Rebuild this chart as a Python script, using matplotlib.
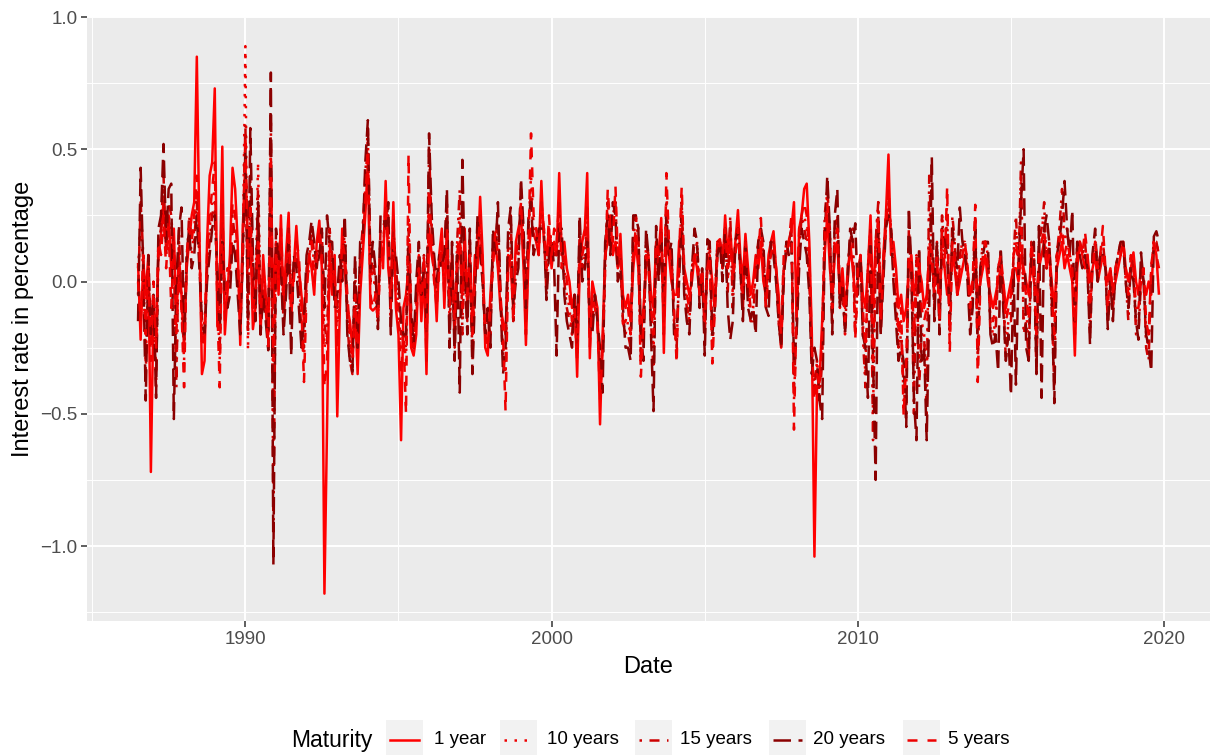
import numpy as np
import pandas as pd
import matplotlib
matplotlib.use("Agg")
import matplotlib.pyplot as plt
import matplotlib.dates as mdates
from matplotlib.ticker import FixedLocator
from matplotlib.patches import Rectangle
from matplotlib.lines import Line2D

plt.rcParams['font.family'] = ['Liberation Sans', 'DejaVu Sans']

# monthly changes of the zero rates, in hundredths of a percentage point
dates = pd.date_range("1986-07-01", periods=401, freq="MS")

one_year = [
    7, -22, 8, -5, 10, -72, -10, -20, 10, 18, 30, 12,
    25, 5, 20, -15, 10, -5, -25, 5, 15, 25, 30, 85,
    20, -35, -30, 15, 40, 45, 73, -17, 0, 51, -20, -5,
    10, 43, 35, 15, -24, 20, 45, 10, 20, -18, -10, 25,
    -20, 10, -5, -20, 40, -10, 15, -5, 25, -10, 10, 26,
    -15, 5, 21, 5, -5, -15, 0, 10, 5, -5, 15, 23,
    5, -118, -55, 10, -5, 10, -51, -10, 20, 5, -10, -15,
    -25, -10, -35, -5, 10, 25, 45, -10, -11, -10, -9, 15,
    5, 38, 5, -5, 30, -10, -20, -60, -10, -5, 5, -25,
    -28, -20, 10, -15, 5, -35, 20, 10, 5, -15, 10, 20,
    -10, 15, -5, 10, -20, 5, 15, -5, 20, -10, 5, -15,
    10, 5, 32, 10, -25, -28, -5, 10, 15, 5, -10, -15,
    -20, 10, 5, -10, 15, 20, 25, 5, -24, 10, 20, 18,
    15, 10, 38, 15, 10, 20, 5, 15, 10, 41, 10, 15,
    5, 0, -10, -5, -36, 5, 15, 20, 41, -29, 0, -5,
    -10, -54, -20, 10, 15, 25, 10, 15, 5, 18, -5, -10,
    -5, -15, 5, 15, 5, -20, -10, 5, 10, -5, -10, 15,
    10, 24, -27, 15, 10, 0, -5, -5, 15, 20, 5, 0,
    -5, 0, 10, 5, -5, 0, -15, 5, 10, 0, -10, 15,
    16, 5, 25, 10, 20, 5, 15, 27, 10, 0, 18, 5,
    -5, 0, 10, 5, 15, 0, -5, 10, 15, 19, 5, -5,
    -25, 5, 10, 15, 20, 30, -15, 20, 25, 35, 37, 15,
    -20, -104, -40, -38, -15, 10, 25, 5, -5, 10, 15, -5,
    5, -10, 0, 15, 5, -5, 0, 10, -5, -10, 5, 25,
    -10, 15, 20, -19, 10, 25, 48, 10, 15, 5, -10, -5,
    -15, -10, 5, 10, -5, 0, 5, 0, -10, -5, 10, 5,
    0, 5, -5, 10, 5, -5, 0, 10, 5, -5, 0, 5,
    10, 5, -5, 0, 5, -5, 0, 5, 10, 0, -5, -10,
    -5, 0, 5, 0, -10, -5, 0, 5, 5, 0, 10, 5,
    0, -5, 10, 0, -5, 5, 10, 15, 5, 11, 0, -10,
    5, 10, 15, 5, 10, 5, 0, -28, 5, 15, 10, 5,
    10, 0, 5, 10, 0, 5, 10, 5, 0, 5, -5, 0,
    5, 10, 15, 5, 0, 5, 11, 0, -5, 5, 0, -5,
    0, -5, 15, 10, -5,
]

five_years = [
    0, -15, 10, -20, 5, -30, 0, -25, 15, 10, 25, 5,
    20, -10, 15, -20, 5, -10, -40, 10, 20, 15, 25, 40,
    15, -25, -20, 10, 25, 35, 45, -10, -40, 30, -15, 5,
    5, 30, 25, 10, -15, 15, 55, 5, 30, -10, -5, 15,
    -15, 5, -10, -25, 45, -30, 10, 5, 20, -5, 5, 20,
    -10, 0, 15, 10, -10, -38, -5, 10, 15, 0, 10, 20,
    10, -40, -30, 15, 0, 5, -25, -5, 15, 10, -5, -20,
    -30, -5, -25, 0, 15, 30, 50, -5, -10, -5, -15, 10,
    10, 30, 15, -10, 25, -5, -15, -35, -20, -50, 48, -20,
    -25, -15, 5, -10, 10, -30, 35, 15, 0, -10, 5, 15,
    -5, 20, -10, 5, -15, 10, 20, -10, 15, -5, 10, -20,
    5, 10, 25, 5, -20, -25, -10, 5, 19, 10, -5, -20,
    -49, 5, 10, -15, 10, 15, 30, 10, -20, 15, 56, 25,
    20, 10, 30, 20, 5, 25, 10, 20, 15, 30, 5, 10,
    0, -5, -15, -10, -30, 10, 10, 15, 30, -25, -5, -10,
    -15, -45, -25, 5, 35, 20, 15, 36, 10, 15, -16, -15,
    -10, -20, 10, 20, 10, -36, -15, 10, 5, -10, -20, 15,
    10, 20, -20, 41, 15, 5, -10, -31, 10, 36, 5, -5,
    -10, 5, 10, 10, -5, 5, -15, 5, 10, -31, -10, 10,
    15, 10, 20, 5, 15, 0, 10, 20, 5, -5, 15, 0,
    -10, -5, 5, 10, 24, 5, -10, 5, 10, 15, 5, -10,
    -20, 10, 10, 15, 25, -56, -10, 20, 25, 30, 25, 10,
    -25, -45, -35, -40, -20, 15, 30, 10, -10, 15, 20, -5,
    0, -15, 5, 10, 10, -22, 5, 10, -10, -25, 0, 20,
    -30, 10, 25, -15, 5, 20, 35, 15, 10, 0, -20, -10,
    -51, -30, 10, 5, -20, 5, 10, -10, -15, -10, 15, 10,
    -5, 10, -15, 20, 5, 36, -27, 15, 10, -5, 5, 10,
    15, 5, -10, 0, 29, -38, 0, 10, 15, 5, -10, -15,
    -10, 5, 10, 0, -15, -10, -5, 10, 15, 5, 20, 0,
    -5, -15, 15, 5, -20, 10, 15, 20, 5, 10, -5, -20,
    10, 15, 20, 10, 15, 10, 5, -20, 10, 15, 10, 19,
    10, -10, 5, 15, 5, 10, 21, 5, -10, 5, -5, 5,
    10, 10, 15, 5, -5, 10, 5, -10, -10, 0, 5, -15,
    -20, 5, 15, 10, 5,
]

ten_years = [
    5, 20, 5, -30, 0, -15, -5, -35, 10, 15, 35, 10,
    25, 20, 10, -35, 15, -5, -30, 10, 20, 10, 20, 35,
    10, -20, -15, 5, 20, 30, 35, -5, -30, 25, -10, 0,
    5, 20, 20, 5, -10, 10, 89, -26, 30, 0, -5, 45,
    -10, 5, -5, -25, 50, -60, 10, 0, 15, -10, 5, 20,
    -5, 5, 10, 5, -15, -30, 0, 5, 20, 5, 10, 15,
    15, -25, -20, 20, 5, 0, -15, 0, 10, 15, -10, -25,
    -35, 0, -20, 5, 20, 35, 55, 0, 5, -5, -15, 15,
    15, 25, 20, -10, 20, 0, -10, -25, -20, -30, 25, -15,
    -25, -10, 5, -5, 10, -20, 40, 20, 0, -5, 5, 10,
    0, 25, -15, 5, -20, 15, 25, -15, 10, -10, 15, -25,
    5, 15, 20, 0, -20, -20, -15, 10, 15, 20, -5, -25,
    -35, 10, 20, -15, 5, 10, 30, 15, -15, 20, 40, 20,
    15, 15, 25, 20, 0, 20, 15, 15, 10, 25, 10, 5,
    -5, -10, -20, -10, -25, 15, 5, 10, 25, -20, -10, -5,
    -15, -35, -25, 5, 30, 20, 20, 30, 5, 10, -15, -20,
    -15, -20, 15, 25, 15, -30, -20, 15, 10, -10, -25, 10,
    5, 20, -15, 35, 10, 10, -15, -25, 5, 30, 0, -5,
    -15, 5, 10, 15, -5, 5, -20, 5, 15, -25, -5, 15,
    15, 5, 20, 0, 20, -5, 15, 20, 5, -10, 15, 0,
    -15, -10, 5, 15, 20, 10, -10, 5, 15, 15, 5, -15,
    -25, 5, 15, 15, 20, -45, -15, 15, 25, 25, 20, 5,
    -30, -40, -30, -40, -25, 20, 35, 15, -15, 20, 25, -10,
    0, -20, 5, 15, 15, -20, 0, 10, -15, -35, 5, 20,
    -50, 15, 30, -15, 5, 25, 30, 20, 5, -5, -25, -15,
    -45, -40, 15, 5, -35, 10, -30, -15, -20, -40, 30, 15,
    -10, 15, -15, 25, 10, 30, -20, 20, 15, -5, 10, 15,
    15, 5, -15, -5, 25, -30, 5, 15, 15, 10, -15, -20,
    -15, 5, 10, -5, -25, -15, -10, 10, 20, 5, 40, -15,
    -10, -25, 15, 10, -30, 15, 20, 25, 5, 15, -10, -30,
    10, 20, 30, 15, 20, 10, 5, -15, 15, 15, 10, 15,
    5, -15, 10, 15, 5, 10, 15, 5, -15, 5, -10, 5,
    10, 15, 15, 0, -10, 10, 5, -15, -15, 0, 5, -20,
    -25, 5, 15, 15, 10,
]

fifteen_years = [
    -5, 30, 10, -35, 5, -20, -10, -40, 15, 20, 40, 10,
    30, 25, 10, -40, 20, -10, -25, 5, 25, 15, 15, 30,
    10, -15, -20, 5, 15, 25, 30, 0, -25, 20, -5, 0,
    0, 25, 15, 0, -15, 5, 60, -20, 40, 0, -10, 35,
    -15, 0, -10, -25, 60, -90, 15, 5, 10, -15, 0, 20,
    -5, 5, 10, 0, -20, -25, 5, 10, 20, 10, 5, 15,
    20, -15, -25, 20, 10, -5, -10, 5, 5, 20, -15, -30,
    -35, 5, -25, 10, 20, 40, 58, 0, 10, 0, -15, 20,
    20, 25, 25, -15, 20, 5, -5, -20, -20, -25, 20, -15,
    -25, -5, 10, -5, 10, -20, 50, 20, 5, -5, 5, 10,
    5, 30, -20, 10, -25, 15, 35, -20, 10, -15, 15, -30,
    0, 20, 15, 0, -20, -15, -20, 15, 15, 25, -5, -30,
    -30, 15, 25, -15, 5, 10, 35, 15, -15, 20, 35, 15,
    15, 15, 25, 20, -5, 15, 15, 10, 10, 25, 15, 0,
    -10, -15, -20, -10, -25, 20, 5, 10, 20, -20, -15, -5,
    -15, -35, -30, 10, 30, 15, 25, 30, 5, 10, -15, -20,
    -20, -25, 20, 25, 20, -30, -25, 15, 10, -15, -35, 15,
    5, 20, -10, 30, 10, 10, -15, -25, 5, 30, 0, -10,
    -15, 5, 15, 15, -5, 5, -20, 10, 15, -25, -10, 15,
    15, 5, 20, -5, 25, -10, 15, 20, 5, -10, 15, -5,
    -15, -15, 5, 15, 20, 10, -10, 5, 15, 15, 5, -15,
    -25, 5, 15, 15, 20, -40, -15, 10, 25, 20, 15, 0,
    -30, -40, -30, -45, -30, 25, 35, 20, -15, 20, 25, -10,
    0, -20, 5, 15, 20, -20, 0, 10, -20, -40, 5, 20,
    -60, 15, 30, -15, 5, 25, 30, 20, 5, -10, -25, -20,
    -40, -50, 20, 5, -50, 10, -40, -20, -20, -50, 40, 15,
    -10, 15, -15, 25, 10, 25, -20, 25, 15, -5, 10, 15,
    15, 5, -15, -5, 25, -30, 5, 15, 15, 10, -20, -20,
    -20, 5, 10, -5, -30, -15, -15, 10, 25, 5, 45, -20,
    -15, -30, 15, 10, -35, 15, 20, 30, 5, 15, -10, -40,
    10, 20, 35, 20, 20, 10, 5, -15, 15, 15, 10, 15,
    5, -20, 10, 15, 5, 10, 15, 5, -15, 5, -10, 5,
    10, 15, 15, 0, -15, 10, 5, -20, -20, 0, 5, -25,
    -30, 5, 15, 15, 10,
]

twenty_years = [
    -15, 43, 5, -45, 10, -20, -5, -44, 20, 25, 52, 15,
    35, 37, -52, 0, 20, 28, -20, 10, 20, 5, 10, 25,
    5, -15, -20, 0, 10, 20, 25, 5, -20, 15, -5, -10,
    -5, 15, 10, -5, -20, 10, 50, -15, 58, 10, -15, 30,
    -20, -5, -15, -26, 79, -107, 20, 10, 5, -20, -5, 15,
    -28, 10, 5, -10, -25, -15, 10, 15, 23, 15, 5, 10,
    20, -10, 25, 15, 15, -10, -5, 10, 0, 25, -20, -30,
    -34, 10, -25, 15, 15, 45, 61, 5, 15, 5, -18, 25,
    25, 20, 30, -20, 15, 10, 0, -15, -20, -20, 15, -10,
    -25, 0, 15, -5, 5, -15, 56, 25, 10, 0, 10, 5,
    10, 35, -25, 15, -30, 10, -42, 46, 5, -20, 20, -35,
    -5, 25, 10, 0, -20, -10, -25, 20, 10, 30, -5, -35,
    -25, 20, 28, -10, 0, 5, 39, 20, -10, 25, 30, 10,
    15, 20, 20, 20, -7, 10, 15, 5, -28, 20, 20, -5,
    -15, -20, -25, -5, -20, 25, 0, 5, 15, -15, -20, -5,
    -15, -25, -42, 15, 25, 10, 30, 25, 0, 5, -10, -25,
    -25, -30, 25, 25, 20, -20, -30, 20, 10, -20, -49, 21,
    0, 15, -5, 25, 10, 15, -20, -20, 0, 25, -5, -15,
    -20, 5, 20, 15, -10, 5, -28, 16, 15, -20, -10, 10,
    15, 0, 20, -10, -22, -15, 15, 20, 5, -15, 15, -10,
    -14, -10, -20, 15, 20, 15, -10, -13, 15, 10, 0, -15,
    -25, 0, 15, 10, 15, -30, -20, 5, 20, 15, 10, -5,
    -35, -25, -30, -45, -52, 15, 40, 20, -20, 25, 35, -10,
    0, -20, 0, 20, 15, 22, -5, 10, -20, -25, -44, 15,
    -30, -75, 25, -20, 0, 20, 25, 20, 0, -15, -30, -25,
    -30, -55, 28, 5, -45, -60, 13, -30, -25, -60, -10, 47,
    -15, 15, -20, 20, 15, 10, -15, 20, 10, 5, 28, 15,
    10, 0, -20, -10, 20, -25, 5, 10, 15, 15, -20, -25,
    -20, -34, 13, -10, -30, -20, -43, 5, -39, 5, 30, 50,
    -25, -30, 10, 15, -35, 21, -44, 20, 25, 15, -5, -46,
    10, 15, 25, 38, 20, 10, 27, -15, 15, 10, 5, 10,
    5, -24, 11, 20, 0, 10, 10, 5, -18, 0, -15, 5,
    10, 15, 15, 0, -10, 5, 0, -15, -22, 11, 0, -20,
    -25, -34, 17, 19, 15,
]

labels = ["1 year", "10 years", "15 years", "20 years", "5 years"]
values = [one_year, ten_years, fifteen_years, twenty_years, five_years]
colors = ["#FF0000", "#EE0000", "#CD0000", "#8B0000", "#EE0000"]
dashes = ["-", (0, (1, 3)), (0, (1, 3, 4, 3)), (0, (7, 3)), (0, (4, 4))]

df = pd.DataFrame({lab: np.array(v) / 100 for lab, v in zip(labels, values)}, index=dates)

W, H = 1218, 755
fig = plt.figure(figsize=(W / 100, H / 100), dpi=100)
ax = fig.add_axes([87 / W, 1 - 621 / H, (1210 - 87) / W, (621 - 17) / H])
ax.set_facecolor("#EBEBEB")

for lab, col, ls in zip(labels, colors, dashes):
    ax.plot(df.index, df[lab], color=col, linestyle=ls, lw=1.8, solid_capstyle="butt")

# ggplot-like 5% expansion
lo, hi = df.min().min(), df.max().max()
pad = 0.05 * (hi - lo)
ax.set_ylim(lo - pad, hi + pad)
x0, x1 = mdates.date2num(dates[0]), mdates.date2num(dates[-1])
xp = 0.05 * (x1 - x0)
ax.set_xlim(x0 - xp, x1 + xp)

ax.xaxis.set_major_locator(mdates.YearLocator(10))
ax.xaxis.set_major_formatter(mdates.DateFormatter("%Y"))
minor_years = [mdates.date2num(pd.Timestamp(f"{y}-01-01")) for y in range(1985, 2025, 10)]
ax.xaxis.set_minor_locator(FixedLocator(minor_years))
ax.set_yticks([-1.0, -0.5, 0.0, 0.5, 1.0])
ax.yaxis.set_minor_locator(FixedLocator([-1.25, -0.75, -0.25, 0.25, 0.75]))

ax.grid(which="major", color="white", lw=1.4)
ax.grid(which="minor", color="white", lw=0.7)
ax.set_axisbelow(True)
for s in ax.spines.values():
    s.set_visible(False)
ax.tick_params(which="major", length=4, width=1.1, color="#333333",
               labelcolor="#4D4D4D", labelsize=13.5, pad=3)
ax.tick_params(which="minor", length=0)

ax.set_xlabel("Date", fontsize=17, labelpad=6)
ax.set_ylabel("Interest rate in percentage", fontsize=17, labelpad=4)

# legend along the bottom, title on the left
def fx(px):
    return px / W

def fy(py):
    return 1 - py / H

fig.text(fx(291), fy(740), "Maturity", fontsize=16.5, va="center", ha="left")
key_left = [386, 500, 635, 769, 903]
text_left = [434, 547, 680, 813, 948]
kw, kh, ktop = 37, 38, 720
for lab, col, ls, kx, tx in zip(labels, colors, dashes, key_left, text_left):
    fig.patches.append(Rectangle((fx(kx), fy(ktop + kh)), kw / W, kh / H,
                                 transform=fig.transFigure, facecolor="#F2F2F2",
                                 edgecolor="none"))
    fig.lines.append(Line2D([fx(kx + 4), fx(kx + kw - 4)], [fy(740), fy(740)],
                            transform=fig.transFigure, color=col, linestyle=ls, lw=1.8))
    fig.text(fx(tx), fy(740), lab, fontsize=13.5, va="center", ha="left")

fig.savefig("out.png", dpi=100)
